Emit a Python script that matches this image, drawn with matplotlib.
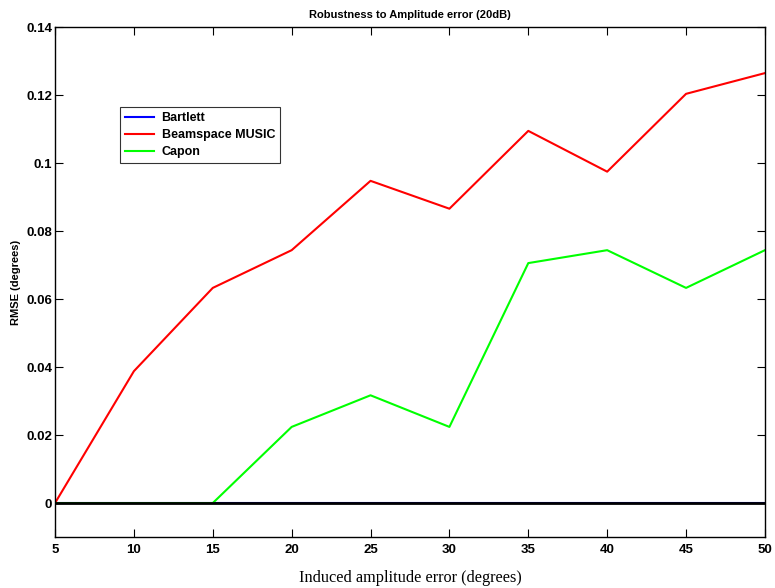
import matplotlib
matplotlib.use("Agg")
import matplotlib.pyplot as plt

x = [5, 10, 15, 20, 25, 30, 35, 40, 45, 50]
bartlett = [0, 0, 0, 0, 0, 0, 0, 0, 0, 0]
music = [0, 0.0388, 0.0633, 0.0744, 0.0948, 0.0866, 0.1095, 0.0975, 0.1204, 0.1265]
capon = [0, 0, 0, 0.0224, 0.0317, 0.0224, 0.0706, 0.0744, 0.0633, 0.0744]
xticks = [5, 10, 15, 20, 25, 30, 35, 40, 45, 50]
yticks = [0, 0.02, 0.04, 0.06, 0.08, 0.1, 0.12, 0.14]
ytick_labels = ["0", "0.02", "0.04", "0.06", "0.08", "0.1", "0.12", "0.14"]

plt.rcParams['font.family'] = ['Liberation Sans', 'DejaVu Sans']
fig = plt.figure(figsize=(7.75, 5.88), dpi=100)
ax = fig.add_axes([0.071, 0.0867, 0.916, 0.867])

ax.plot(x, bartlett, color='#0000ff', lw=1.5, label='Bartlett', zorder=2)
ax.plot(x, music, color='#ff0000', lw=1.5, label='Beamspace MUSIC', zorder=2)
ax.plot(x, capon, color='#00ff00', lw=1.5, label='Capon', zorder=2)
ax.axhline(0, color='black', lw=2, zorder=3)

ax.set_xlim(5, 50)
ax.set_ylim(-0.01, 0.14)
ax.set_xticks(xticks)
ax.set_xticklabels([str(t) for t in xticks], fontweight='bold', fontsize=9.5)
ax.set_yticks(yticks)
ax.set_yticklabels(ytick_labels, fontweight='bold', fontsize=9.5)
ax.tick_params(direction='in', top=True, right=True, length=6, width=0.8)
ax.tick_params(axis='x', pad=5)
ax.tick_params(axis='y', pad=2)
for s in ax.spines.values():
    s.set_linewidth(1.0)

ax.set_title('Robustness to Amplitude error (20dB)', fontsize=8, fontweight='bold', pad=7)
ax.set_xlabel('Induced amplitude error (degrees)', fontsize=11.7, family=['Liberation Serif', 'DejaVu Serif'], labelpad=10)
ax.set_ylabel('RMSE (degrees)', fontsize=8, fontweight='bold')
ax.yaxis.set_label_coords(-0.048, 0.5)

leg = ax.legend(loc='upper left', bbox_to_anchor=(0.092, 0.843), prop={'weight': 'bold', 'size': 9},
                frameon=True, fancybox=False, edgecolor='black', borderpad=0.4, labelspacing=0.4,
                handlelength=2.3, handletextpad=0.6, borderaxespad=0)
leg.get_frame().set_linewidth(0.8)

fig.savefig('out.png', dpi=100)
